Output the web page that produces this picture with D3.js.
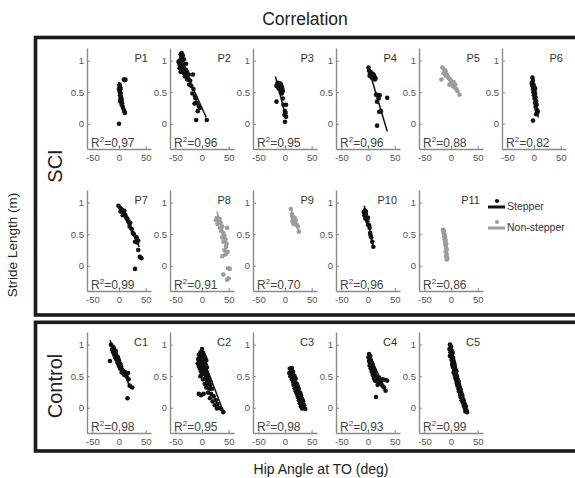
<!DOCTYPE html>
<html><head><meta charset="utf-8">
<script src="https://cdn.jsdelivr.net/npm/d3@7"></script>
<style>body{margin:0;background:#fff}svg{display:block}</style>
</head><body><svg id="c" width="575" height="478"></svg>
<script>
const xTicks=[-50,0,50];
const yTicks=[0,0.5,1];
const panelNames=["P1","P2","P3","P4","P5","P6","P7","P8","P9","P10","P11","C1","C2","C3","C4","C5"];
const r2Values=["0.97","0.96","0.95","0.96","0.88","0.82","0.99","0.91","0.70","0.96","0.86","0.98","0.95","0.98","0.93","0.99"];
const groups=["S","S","S","S","N","S","S","N","N","S","N","S","S","S","S","S"];
const fitLines=[
 [0,0.66,10,0.2],[-42,1.03,8,0.1],[-18,0.75,2,0.1],[1,0.88,36,-0.12],[-15,0.9,15,0.48],[-3,0.75,8,0.1],
 [0,0.95,38,0.3],[28,0.86,47,0.32],[12,0.88,26,0.55],[-7,0.95,10,0.3],[-14,0.57,-7,0.1],
 [-17,1.07,22,0.3],[0,0.83,40,-0.06],[10,0.62,38,-0.03],[2,0.86,34,0.25],[-2,1.02,30,-0.08]];
const P1=[[1,0.62],[2,0.58],[0,0.55],[1,0.52],[2,0.5],[3,0.48],[2,0.45],[4,0.42],[3,0.4],[5,0.38],[4,0.35],[6,0.32],[5,0.3],[7,0.27],[8,0.24],[10,0.2],[11,0.17],[9,0.7],[12,0.7],[11,0.69],[0,0.0],[1,0.6],[3,0.55],[2,0.36]];
const P2=[[-40,1.1],[-38,1.12],[-36,1.08],[-42,1.0],[-44,0.98],[-40,0.95],[-37,1.0],[-35,0.93],[-38,0.9],[-42,0.88],[-36,0.85],[-33,0.88],[-30,0.85],[-40,0.82],[-34,0.8],[-28,0.82],[-32,0.75],[-25,0.78],[-36,0.92],[-39,1.05],[-34,1.02],[-30,0.95],[-26,0.72],[-22,0.68],[-17,0.78],[-20,0.6],[-16,0.55],[-13,0.43],[-18,0.48],[-12,0.4],[-10,0.33],[-14,0.32],[-6,0.28],[-4,0.25],[-8,0.2],[-11,0.06],[9,0.06],[-24,0.62],[-28,0.7],[-42,0.93]];
const P3=[[-14,0.65],[-12,0.62],[-10,0.6],[-8,0.63],[-6,0.58],[-12,0.56],[-9,0.55],[-7,0.6],[-5,0.55],[-11,0.58],[-16,0.6],[-8,0.5],[-6,0.48],[-16,0.35],[-4,0.4],[-3,0.3],[2,0.3],[0,0.2],[-1,0.14],[2,0.11],[0,0.03],[1,0.17],[-10,0.64],[-4,0.52]];
const P4=[[1,0.89],[2,0.84],[4,0.8],[6,0.78],[8,0.76],[10,0.75],[12,0.74],[14,0.72],[5,0.82],[9,0.79],[11,0.77],[7,0.73],[13,0.7],[15,0.46],[18,0.46],[17,0.35],[22,0.45],[36,0.41],[21,0.19],[24,0.2],[17,-0.03],[20,0.4],[3,0.76]];
const P5=[[-16,0.89],[-12,0.85],[-10,0.83],[-14,0.8],[-8,0.78],[-18,0.7],[-6,0.75],[-4,0.72],[-2,0.7],[0,0.68],[2,0.65],[-3,0.62],[4,0.6],[6,0.58],[8,0.62],[10,0.55],[12,0.52],[16,0.46],[-10,0.76],[5,0.66]];
const P6=[[-3,0.73],[-2,0.68],[-4,0.65],[-1,0.62],[-3,0.6],[0,0.58],[-2,0.55],[1,0.52],[-1,0.5],[2,0.48],[0,0.45],[3,0.42],[1,0.4],[4,0.36],[2,0.33],[5,0.3],[3,0.27],[5,0.22],[6,0.18],[4,0.15],[-2,0.05],[7,0.2],[-4,0.63],[2,0.56]];
const P7=[[-1,0.95],[2,0.92],[4,0.9],[6,0.88],[3,0.86],[8,0.85],[10,0.82],[7,0.8],[12,0.8],[14,0.76],[16,0.74],[18,0.7],[21,0.68],[20,0.62],[24,0.58],[26,0.52],[28,0.5],[33,0.45],[36,0.4],[34,0.37],[30,0.38],[36,0.25],[39,0.14],[42,0.12],[30,-0.05],[10,0.87]];
const P8=[[28,0.76],[30,0.74],[26,0.72],[32,0.7],[35,0.68],[29,0.66],[38,0.62],[34,0.6],[47,0.6],[36,0.55],[40,0.52],[42,0.48],[38,0.45],[44,0.42],[40,0.38],[46,0.35],[45,0.3],[42,0.25],[48,0.22],[38,0.15],[44,0.18],[49,-0.04],[52,-0.05],[40,-0.14],[47,-0.22],[50,-0.2],[33,0.74]];
const P9=[[11,0.9],[13,0.82],[14,0.78],[16,0.75],[15,0.72],[17,0.7],[18,0.76],[19,0.68],[20,0.72],[16,0.66],[22,0.65],[24,0.62],[26,0.54],[14,0.7]];
const P10=[[-8,0.85],[-6,0.88],[-4,0.82],[-7,0.8],[-3,0.78],[-5,0.75],[-2,0.73],[0,0.76],[-1,0.7],[0,0.65],[2,0.64],[3,0.6],[4,0.52],[5,0.48],[6,0.45],[8,0.38],[10,0.3],[-4,0.86]];
const P11=[[-15,0.57],[-13,0.55],[-14,0.52],[-12,0.5],[-13,0.47],[-11,0.45],[-12,0.42],[-10,0.4],[-11,0.37],[-9,0.35],[-10,0.32],[-9,0.28],[-8,0.25],[-10,0.22],[-8,0.18],[-9,0.15],[-7,0.12],[-8,0.1]];
const C1=[[-15,1.0],[-12,0.97],[-10,0.95],[-13,0.92],[-8,0.9],[-11,0.88],[-6,0.86],[-9,0.84],[-4,0.82],[-7,0.8],[-2,0.8],[-5,0.77],[0,0.75],[-3,0.73],[2,0.7],[-17,0.74],[0,0.66],[4,0.65],[2,0.62],[6,0.6],[8,0.58],[12,0.56],[17,0.55],[14,0.5],[18,0.45],[20,0.35],[25,0.32],[16,0.15],[-6,0.9],[3,0.68],[-9,0.92],[-2,0.7],[5,0.56],[10,0.52]];
const C2=[[0,0.93],[-3,0.88],[2,0.87],[-6,0.84],[-1,0.84],[4,0.83],[-4,0.8],[1,0.8],[6,0.79],[-7,0.77],[-2,0.77],[3,0.76],[8,0.75],[-5,0.73],[0,0.73],[5,0.72],[-8,0.7],[-3,0.7],[2,0.69],[7,0.68],[-6,0.66],[-1,0.66],[4,0.65],[9,0.64],[-4,0.62],[1,0.62],[6,0.61],[-2,0.58],[3,0.58],[8,0.57],[0,0.54],[5,0.53],[10,0.52],[-3,0.5],[7,0.48],[12,0.47],[2,0.45],[9,0.43],[14,0.42],[5,0.38],[11,0.37],[16,0.36],[8,0.32],[14,0.3],[19,0.3],[-6,0.22],[-2,0.2],[3,0.22],[11,0.24],[17,0.22],[22,0.18],[20,0.1],[26,0.12],[15,0.15],[24,0.04],[29,0.06],[32,0.0],[36,-0.02],[40,-0.07],[28,-0.01]];
const C3=[[9,0.62],[13,0.63],[11,0.58],[15,0.57],[8,0.55],[12,0.53],[16,0.52],[10,0.5],[14,0.49],[18,0.5],[13,0.45],[17,0.44],[20,0.46],[15,0.41],[19,0.4],[22,0.38],[16,0.36],[21,0.34],[24,0.33],[18,0.31],[23,0.29],[26,0.3],[20,0.26],[25,0.25],[28,0.24],[22,0.22],[27,0.2],[30,0.19],[24,0.17],[29,0.15],[32,0.14],[26,0.12],[31,0.1],[34,0.1],[28,0.07],[33,0.05],[36,0.04],[30,0.02],[35,0.0],[38,-0.02],[32,-0.01],[17,0.47],[23,0.36],[29,0.22],[33,0.12],[12,0.6],[20,0.3],[26,0.18]];
const C4=[[2,0.85],[4,0.82],[1,0.8],[3,0.78],[5,0.76],[2,0.74],[6,0.73],[4,0.7],[8,0.7],[3,0.67],[6,0.65],[9,0.64],[5,0.62],[8,0.6],[11,0.6],[7,0.57],[10,0.56],[13,0.55],[9,0.52],[12,0.5],[15,0.5],[11,0.47],[14,0.46],[17,0.47],[13,0.43],[16,0.42],[19,0.43],[22,0.44],[25,0.43],[28,0.45],[33,0.44],[36,0.43],[20,0.39],[24,0.38],[18,0.36],[27,0.35],[30,0.32],[33,0.27],[15,0.17],[10,0.62],[21,0.48]];
const C5=[[-2,1.0],[0,0.97],[-3,0.93],[1,0.91],[-1,0.88],[3,0.87],[0,0.84],[-2,0.82],[2,0.8],[4,0.79],[1,0.76],[5,0.74],[3,0.72],[6,0.7],[2,0.68],[7,0.67],[4,0.64],[8,0.62],[6,0.6],[10,0.58],[5,0.56],[9,0.54],[7,0.52],[11,0.5],[8,0.47],[12,0.45],[10,0.43],[14,0.42],[11,0.39],[15,0.37],[12,0.35],[16,0.33],[14,0.3],[18,0.29],[15,0.26],[19,0.24],[17,0.21],[21,0.2],[18,0.17],[22,0.15],[20,0.12],[24,0.11],[22,0.08],[26,0.06],[24,0.03],[28,0.02],[26,-0.01],[29,-0.04],[27,-0.06],[30,-0.07],[9,0.51],[13,0.4],[16,0.28],[5,0.66]];
const panelData=[P1,P2,P3,P4,P5,P6,P7,P8,P9,P10,P11,C1,C2,C3,C4,C5];
const legendLabels=["Stepper","Non-stepper"];

const FONT="'Liberation Sans', Arial, Helvetica, sans-serif";
const colorOf={S:"#111",N:"#9c9c9c"};
const svg=d3.select("#c").style("font-family",FONT);

// frames
svg.append("rect").attr("x",35.5).attr("y",37.5).attr("width",560).attr("height",277.5)
  .attr("fill","none").attr("stroke","#1c1c1c").attr("stroke-width",3.6);
svg.append("rect").attr("x",35.5).attr("y",322.3).attr("width",560).attr("height",128.7)
  .attr("fill","none").attr("stroke","#1c1c1c").attr("stroke-width",3.6);

// titles
svg.append("text").attr("x",305).attr("y",25).attr("text-anchor","middle")
  .attr("font-size",17.5).attr("fill","#222").text("Correlation");
svg.append("text").attr("x",321).attr("y",474).attr("text-anchor","middle")
  .attr("font-size",14).attr("fill","#222").text("Hip Angle at TO (deg)");
svg.append("text").attr("transform","translate(17,245) rotate(-90)").attr("text-anchor","middle")
  .attr("font-size",13.5).attr("fill","#222").text("Stride Length (m)");
svg.append("text").attr("transform","translate(62,166) rotate(-90)").attr("text-anchor","middle")
  .attr("font-size",20).attr("fill","#222").text("SCI");
svg.append("text").attr("transform","translate(62,386) rotate(-90)").attr("text-anchor","middle")
  .attr("font-size",20).attr("fill","#222").text("Control");

const colX0=87, colStep=83, pw=64, ph=101;
const rowTops=[48,190,332];
panelNames.forEach((name,i)=>{
  const r = i<6?0:(i<11?1:2);
  const c = i<6?i:(i<11?i-6:i-11);
  const ax=colX0+c*colStep, top=rowTops[r];
  const x=d3.scaleLinear().domain([-60,60]).range([ax,ax+pw]);
  const y=d3.scaleLinear().domain([-0.4,1.2]).range([top+ph,top]);
  const g=svg.append("g");
  const ya=g.append("g").attr("transform",`translate(${ax},0)`)
    .call(d3.axisLeft(y).tickValues(yTicks).tickSize(-3).tickSizeOuter(0).tickPadding(3).tickFormat(d=>String(d)));
  const xa=g.append("g").attr("transform",`translate(0,${top+ph})`)
    .call(d3.axisBottom(x).tickValues(xTicks).tickSize(-3).tickSizeOuter(0).tickPadding(5).tickFormat(d=>String(d)));
  [ya,xa].forEach(a=>{
    a.select(".domain").attr("stroke","#8a8a8a").attr("stroke-width",1.4);
    a.selectAll(".tick line").attr("stroke","#8a8a8a");
    a.selectAll(".tick text").attr("fill","#555").attr("font-size",9.5).attr("font-family",FONT);
  });
  const col=colorOf[groups[i]];
  const fl=fitLines[i];
  g.append("line").attr("x1",x(fl[0])).attr("y1",y(fl[1])).attr("x2",x(fl[2])).attr("y2",y(fl[3]))
    .attr("stroke",col).attr("stroke-width",1.5);
  g.selectAll("circle.pt").data(panelData[i]).enter().append("circle")
    .attr("cx",d=>x(d[0])).attr("cy",d=>y(d[1])).attr("r",2.3).attr("fill",col);
  g.append("text").attr("x",ax+61).attr("y",top+14).attr("text-anchor","end")
    .attr("font-size",11).attr("fill","#333").text(name);
  const t=g.append("text").attr("x",ax+4).attr("y",top+ph-2).attr("font-size",12).attr("fill","#444");
  t.append("tspan").text("R");
  t.append("tspan").attr("dy",-5).attr("font-size",8).text("2");
  t.append("tspan").attr("dy",5).text("="+r2Values[i]);
});

// legend
const lg=svg.append("g");
legendLabels.forEach((lab,k)=>{
  const col=k===0?colorOf.S:colorOf.N;
  const ly=207+k*21;
  lg.append("line").attr("x1",488).attr("x2",505).attr("y1",ly).attr("y2",ly).attr("stroke",col).attr("stroke-width",3);
  lg.append("circle").attr("cx",497).attr("cy",ly-6).attr("r",2.1).attr("fill",col);
  lg.append("text").attr("x",507).attr("y",ly+2.5).attr("font-size",10.5).attr("fill","#333").text(lab);
});
</script></body></html>
